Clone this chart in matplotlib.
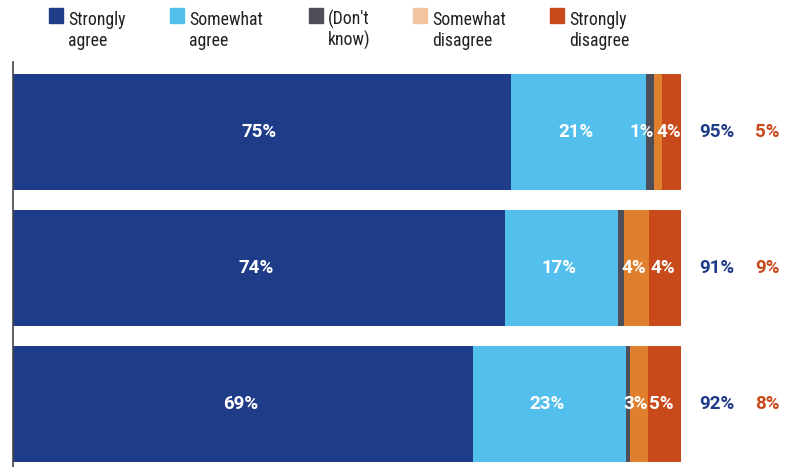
import matplotlib.pyplot as plt
from matplotlib.patches import Rectangle

# legend entries (two lines each) and colours
legend_line1 = ['Strongly', 'Somewhat', "(Don't", 'Somewhat', 'Strongly']
legend_line2 = ['agree', 'agree', 'know)', 'disagree', 'disagree']
bar_colors = ['#1f3c88', '#52bfec', '#4e4e58', '#e07f2e', '#c8491a']
legend_colors = ['#1f3c88', '#52bfec', '#4e4e58', '#f2c4a0', '#c8491a']

# segment widths (each row sums to 100)
strongly_agree = [74.5, 73.7, 68.9]
somewhat_agree = [20.3, 16.9, 22.8]
dont_know = [1.2, 0.9, 0.6]
somewhat_disagree = [1.1, 3.7, 2.7]
strongly_disagree = [2.9, 4.8, 5.0]

# printed labels
seg_labels = [
    ['75%', '21%', '1%', '', '4%'],
    ['74%', '17%', '', '4%', '4%'],
    ['69%', '23%', '', '3%', '5%'],
]
total_agree = ['95%', '91%', '92%']
total_disagree = ['5%', '9%', '8%']

W, H = 795, 467
num_font = ['Roboto', 'DejaVu Sans']
leg_font = ['Roboto Condensed', 'Roboto', 'DejaVu Sans']

fig = plt.figure(figsize=(W / 100, H / 100), dpi=100)
ax = fig.add_axes([13 / W, 0, 1 - 13 / W, 405 / H])

series = [strongly_agree, somewhat_agree, dont_know, somewhat_disagree, strongly_disagree]
rows = range(len(strongly_agree))
left = [0.0] * len(strongly_agree)
for s, vals in enumerate(series):
    ax.barh(list(rows), vals, left=left, height=0.853, color=bar_colors[s], linewidth=0)
    for r in rows:
        lab = seg_labels[r][s]
        if not lab:
            continue
        if vals[r] < 2:
            # thin segment: label ends at its right edge
            x, ha = left[r] + vals[r], 'right'
        else:
            x, ha = left[r] + vals[r] / 2 - 0.4, 'center'
        ax.text(x, r, lab, ha=ha, va='center', color='white',
                fontsize=13.5, fontweight='bold', family=num_font)
    left = [a + b for a, b in zip(left, vals)]

for r in rows:
    ax.text(105.4, r, total_agree[r], ha='center', va='center', color='#1f3c88',
            fontsize=13.5, fontweight='bold', family=num_font)
    ax.text(112.9, r, total_disagree[r], ha='center', va='center', color='#c8491a',
            fontsize=13.5, fontweight='bold', family=num_font)

ax.set_xlim(0, 117.07)
ax.set_ylim(2.463, -0.515)
for side in ['top', 'right', 'bottom']:
    ax.spines[side].set_visible(False)
ax.spines['left'].set_color('#444444')
ax.spines['left'].set_linewidth(1.2)
ax.set_xticks([])
ax.set_yticks([])

# legend drawn by hand
sw_x = [49, 170, 309, 413, 550]
for i in range(len(legend_line1)):
    fig.patches.append(Rectangle((sw_x[i] / W, 1 - 23.3 / H), 14 / W, 15 / H,
                                 transform=fig.transFigure, color=legend_colors[i]))
    fig.text((sw_x[i] + 19) / W, 1 - 25 / H, legend_line1[i], ha='left', va='baseline',
             fontsize=12.8, color='#231f20', family=leg_font)
    fig.text((sw_x[i] + 19) / W, 1 - 46 / H, legend_line2[i], ha='left', va='baseline',
             fontsize=12.8, color='#231f20', family=leg_font)

fig.savefig('out.png', dpi=100)
